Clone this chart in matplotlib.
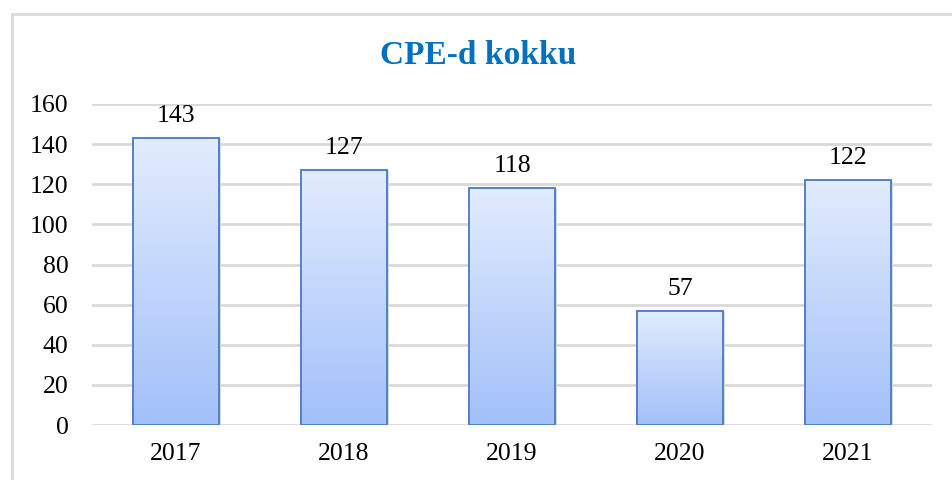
import matplotlib
matplotlib.use("Agg")
import matplotlib.pyplot as plt
import numpy as np
from matplotlib.colors import LinearSegmentedColormap
from matplotlib.lines import Line2D

years = ["2017", "2018", "2019", "2020", "2021"]
values = [143, 127, 118, 57, 122]
title = "CPE-d kokku"
yticks = [0, 20, 40, 60, 80, 100, 120, 140, 160]

plt.rcParams['font.family'] = ['Liberation Serif', 'DejaVu Serif']

fig = plt.figure(figsize=(9.52, 4.8), dpi=100)
ax = fig.add_axes([92/952, 1-425/480, 840/952, (425-104)/480])

x = np.arange(len(years))
width = 0.506
cmap = LinearSegmentedColormap.from_list("g", ["#A2C0FA", "#E2ECFD"])
grad = np.linspace(0, 1, 256).reshape(-1, 1)

for xi, v in zip(x, values):
    # shadow
    ax.bar(xi + 0.012, v, width, bottom=-0.6, color="#D8D8D8", zorder=2, linewidth=0)
    ax.imshow(grad, cmap=cmap, origin="lower", aspect="auto",
              extent=[xi - width/2, xi + width/2, 0, v], zorder=3)
    ax.bar(xi, v, width, facecolor="none", edgecolor="#5381C4", linewidth=1.4, zorder=4)
    ax.annotate(str(v), (xi, v), xytext=(0, 8), textcoords="offset points",
                ha="center", va="bottom", fontsize=18.5, color="#000000")

ax.set_xlim(-0.5, len(years) - 0.5)
ax.set_ylim(0, 160)
ax.set_yticks(yticks)
ax.set_xticks(x)
ax.set_xticklabels(years)
ax.tick_params(axis="both", length=0, labelsize=18.5)
ax.tick_params(axis="y", pad=17)
ax.tick_params(axis="x", pad=13)
ax.grid(axis="y", color="#D9D9D9", linewidth=2, zorder=0)
ax.set_axisbelow(True)
for s in ax.spines.values():
    s.set_visible(False)

fig.text(478/952, 1-56/480, title, ha="center", va="center", fontsize=24,
         fontweight="bold", color="#0070C0")

# outer frame (top and left visible)
fig.add_artist(Line2D([12/952, 1], [1-13.5/480]*2, transform=fig.transFigure, color="#D9D9D9", linewidth=2))
fig.add_artist(Line2D([12/952]*2, [0, 1-13.5/480], transform=fig.transFigure, color="#D9D9D9", linewidth=2))

fig.savefig("out.png", dpi=100, facecolor="white")
